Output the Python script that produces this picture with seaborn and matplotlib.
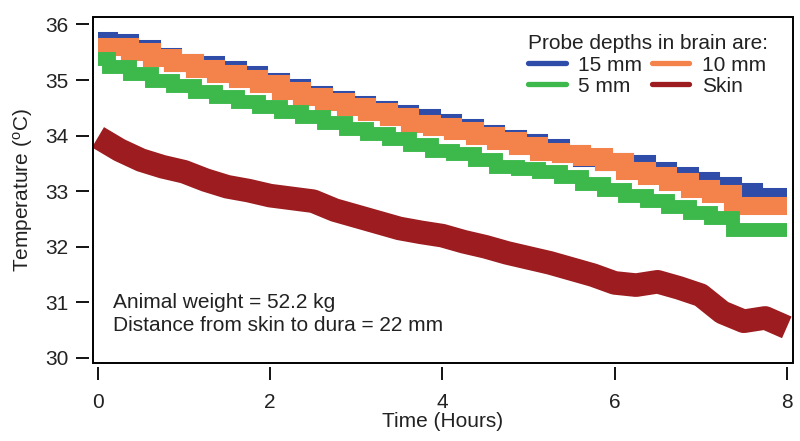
import numpy as np
import pandas as pd
import matplotlib
matplotlib.use("Agg")
import matplotlib.pyplot as plt
import seaborn as sns
from matplotlib.lines import Line2D
from matplotlib.patches import Rectangle

# %%
# Values (one reading every 15 minutes)
hours = [0.0, 0.25, 0.5, 0.75, 1.0, 1.25, 1.5, 1.75, 2.0, 2.25, 2.5, 2.75,
         3.0, 3.25, 3.5, 3.75, 4.0, 4.25, 4.5, 4.75, 5.0, 5.25, 5.5, 5.75,
         6.0, 6.25, 6.5, 6.75, 7.0, 7.25, 7.5, 7.75, 8.0]

temp_15mm = [35.71, 35.67, 35.56, 35.41, 35.30, 35.27, 35.18, 35.09, 34.96,
             34.86, 34.73, 34.64, 34.55, 34.46, 34.39, 34.32, 34.23, 34.14,
             34.03, 33.94, 33.87, 33.78, 33.67, 33.60, 33.53, 33.49, 33.36,
             33.27, 33.18, 33.09, 32.99, 32.90, 32.90]

temp_10mm = [35.60, 35.60, 35.50, 35.40, 35.30, 35.20, 35.11, 35.02, 34.92,
             34.81, 34.69, 34.60, 34.51, 34.42, 34.33, 34.21, 34.15, 34.09,
             34.00, 33.90, 33.82, 33.70, 33.67, 33.61, 33.52, 33.37, 33.28,
             33.16, 33.04, 32.95, 32.74, 32.74, 32.74]

temp_5mm = [35.37, 35.23, 35.10, 34.99, 34.89, 34.79, 34.69, 34.60, 34.52,
            34.43, 34.33, 34.23, 34.12, 34.03, 33.94, 33.83, 33.73, 33.67,
            33.56, 33.44, 33.40, 33.35, 33.25, 33.13, 33.03, 32.92, 32.82,
            32.71, 32.61, 32.51, 32.31, 32.31, 32.31]

temp_skin = [33.97, 33.74, 33.56, 33.44, 33.35, 33.20, 33.08, 33.01, 32.92,
             32.87, 32.82, 32.66, 32.55, 32.44, 32.33, 32.26, 32.20, 32.09,
             32.00, 31.89, 31.80, 31.71, 31.60, 31.49, 31.35, 31.31, 31.37,
             31.26, 31.13, 30.82, 30.66, 30.72, 30.55]

series_labels = ["15 mm", "10 mm", "5 mm", "Skin"]
series_colors = ["#2f4ca8", "#f3834b", "#3db84a", "#9c1c1f"]

y_ticks = [30, 31, 32, 33, 34, 35, 36]
x_ticks = [0, 2, 4, 6, 8]

notes = ["Animal weight = 52.2 kg", "Distance from skin to dura = 22 mm"]

# %%
sns.set_style("ticks")
plt.rcParams["font.family"] = ["Liberation Sans", "DejaVu Sans"]
plt.rcParams["mathtext.default"] = "regular"
FS = 15

fig = plt.figure(figsize=(8, 4.41), dpi=100)
ax = fig.add_axes([0.116, 0.177, 0.875, 0.784])

df = pd.DataFrame({"hours": hours, "15 mm": temp_15mm, "10 mm": temp_10mm,
                   "5 mm": temp_5mm, "Skin": temp_skin})

# probes are quantised, so draw them as steps; skin drawn as a plain thick line
widths = {"15 mm": 13, "10 mm": 13, "5 mm": 10, "Skin": 17}
for label, color in zip(series_labels, series_colors):
    style = "default" if label == "Skin" else "steps-mid"
    join = "round" if label == "Skin" else "miter"
    sns.lineplot(data=df, x="hours", y=label, color=color, lw=widths[label],
                 drawstyle=style, solid_capstyle="butt", solid_joinstyle=join,
                 estimator=None, ax=ax, legend=False)

ax.set_xlim(-0.06, 8.07)
ax.set_ylim(29.91, 36.13)
ax.set_xticks(x_ticks)
ax.set_yticks(y_ticks)

# Igor-style frame: ticks detached a little from the box
for side in ["left", "bottom"]:
    ax.spines[side].set_position(("outward", 3))
    ax.spines[side].set_color("none")
for side in ["top", "right"]:
    ax.spines[side].set_visible(False)
ax.add_patch(Rectangle((0, 0), 1, 1, transform=ax.transAxes, fill=False,
                       lw=1.4, ec="black", clip_on=False, zorder=5))

ax.tick_params(axis="both", direction="out", length=9.5, width=1.3,
               color="black", labelsize=FS, labelcolor="#222222")
ax.tick_params(axis="x", pad=9)
ax.tick_params(axis="y", pad=5)

ax.set_xlabel("Time (Hours)", fontsize=FS, color="#222222", labelpad=0)
ax.set_ylabel("Temperature ($^{o}$C)", fontsize=FS, color="#222222", labelpad=7)

ax.text(0.029, 0.175, notes[0], transform=ax.transAxes, fontsize=FS,
        color="#222222", va="center", ha="left")
ax.text(0.029, 0.108, notes[1], transform=ax.transAxes, fontsize=FS,
        color="#222222", va="center", ha="left")

# legend fills column-wise, so order the handles to read 15/10 then 5/Skin
order = [0, 2, 1, 3]
handles = [Line2D([], [], color=series_colors[i], lw=3.8, solid_capstyle="round")
           for i in order]
labels = [series_labels[i] for i in order]
leg = ax.legend(handles, labels, title="Probe depths in brain are:", ncol=2,
                loc="upper right", bbox_to_anchor=(0.965, 0.95), frameon=False,
                fontsize=FS, title_fontsize=FS, handlelength=1.8,
                handletextpad=0.6, columnspacing=0.45, labelspacing=0.1,
                borderpad=0, borderaxespad=0, alignment="left")
for t in leg.get_texts():
    t.set_color("#222222")
leg.get_title().set_color("#222222")

fig.savefig("out.png", dpi=100)
